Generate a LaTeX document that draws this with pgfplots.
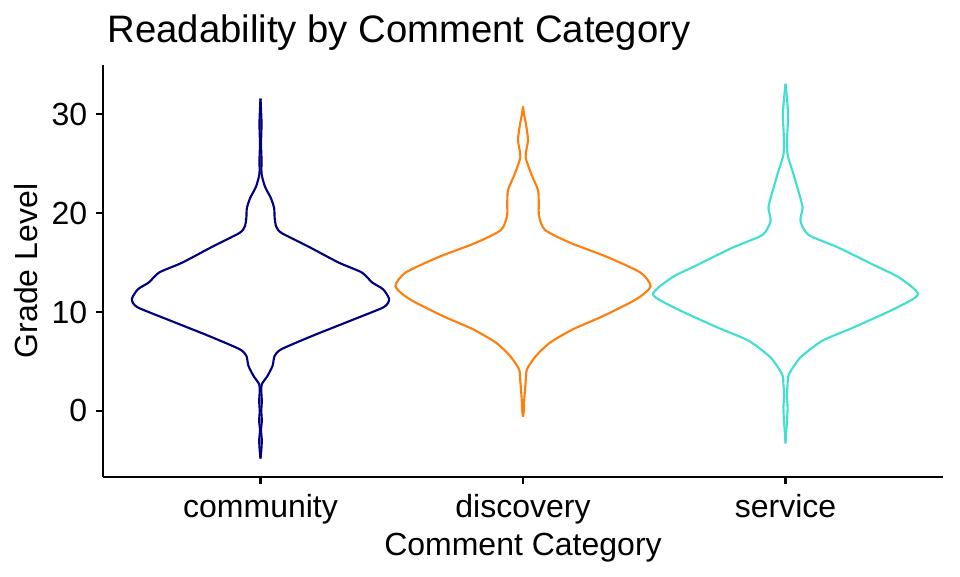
\documentclass[border=0pt]{standalone}
\usepackage{fontspec}
\setmainfont{Liberation Sans}
\usepackage{pgfplots}
\usepackage{pgfplotstable}
\pgfplotsset{compat=1.18}
\definecolor{cnavy}{RGB}{0,0,128}
\definecolor{corange}{RGB}{255,127,14}
\definecolor{cturq}{RGB}{64,224,208}

% half-widths of each violin (x units) at grade level y
\pgfplotstableread{
y w
-4.83 0
-4.0 0.003
-3.0 0.005
-2.0 0.002
-1.0 0.005
0.0 0.003
1.0 0.005
2.0 0.003
2.7 0.005
3.55 0.027
4.56 0.046
5.57 0.054
6.24 0.080
7.6 0.199
9.26 0.356
10.5 0.470
11.3 0.490
12.3 0.467
13.0 0.425
14.0 0.386
15.0 0.298
16.6 0.184
18.0 0.080
18.65 0.060
19.5 0.054
20.5 0.052
21.5 0.040
22.7 0.017
24.0 0.004
25.4 0.004
27.0 0.002
29.0 0.004
30.5 0.002
31.6 0
}\community
\pgfplotstableread{
y w
-0.6 0
0.0 0.003
1.2 0.005
2.9 0.010
4.2 0.015
5.57 0.050
6.9 0.103
8.26 0.191
9.6 0.306
11.3 0.432
12.6 0.486
14.0 0.447
15.6 0.318
17.0 0.180
18.3 0.084
19.7 0.061
21.0 0.060
22.35 0.057
24.0 0.031
25.7 0.010
27.4 0.019
29.06 0.011
30.0 0.004
30.8 0
}\discovery
\pgfplotstableread{
y w
-3.3 0
-2.0 0.003
-1.0 0.006
0.4 0.008
1.5 0.005
2.7 0.008
3.7 0.013
5.4 0.057
7.1 0.141
8.4 0.256
10.4 0.421
11.8 0.505
13.5 0.432
14.8 0.333
16.5 0.203
17.8 0.088
19.2 0.057
20.5 0.065
21.5 0.057
23.9 0.031
25.9 0.008
27.5 0.006
29.9 0.010
31.5 0.006
33.1 0
}\service

\begin{document}
\begin{tikzpicture}
\useasboundingbox (0,0) rectangle (720pt,432pt);
\begin{axis}[
  at={(77.25pt,74.25pt)}, anchor=south west,
  scale only axis, width=630pt, height=309pt,
  xmin=0.4, xmax=3.6, ymin=-6.7, ymax=35,
  axis x line*=bottom, axis y line*=left,
  axis line style={line width=1.6pt, black, -},
  xtick={1,2,3}, xticklabels={community,discovery,service},
  ytick={0,10,20,30},
  tick style={black, line width=1.6pt},
  tick align=outside, major tick length=5.25pt,
  minor tick num=0,
  tick label style={font=\fontsize{24}{28}\selectfont},
  xticklabel style={yshift=-4pt},
  yticklabel style={xshift=-3pt},
  /pgf/number format/assume math mode=true,
  title={Readability by Comment Category},
  title style={at={(axis description cs:0,1.035)}, anchor=base west, font=\fontsize{28.7}{32}\selectfont},
  xlabel={Comment Category},
  ylabel={Grade Level},
  label style={font=\fontsize{24}{28}\selectfont},
  xlabel style={at={(axis description cs:0.5,-0.19)}, anchor=base},
  ylabel style={at={(axis description cs:-0.0774,0.5)}, anchor=base},
  clip=false,
]
\addplot[cnavy, line width=1.6pt, smooth, tension=0.4] table[x expr=1+\thisrow{w}, y=y] {\community};
\addplot[cnavy, line width=1.6pt, smooth, tension=0.4] table[x expr=1-\thisrow{w}, y=y] {\community};
\addplot[corange, line width=1.6pt, smooth, tension=0.4] table[x expr=2+\thisrow{w}, y=y] {\discovery};
\addplot[corange, line width=1.6pt, smooth, tension=0.4] table[x expr=2-\thisrow{w}, y=y] {\discovery};
\addplot[cturq, line width=1.6pt, smooth, tension=0.4] table[x expr=3+\thisrow{w}, y=y] {\service};
\addplot[cturq, line width=1.6pt, smooth, tension=0.4] table[x expr=3-\thisrow{w}, y=y] {\service};
\end{axis}
\end{tikzpicture}
\end{document}
